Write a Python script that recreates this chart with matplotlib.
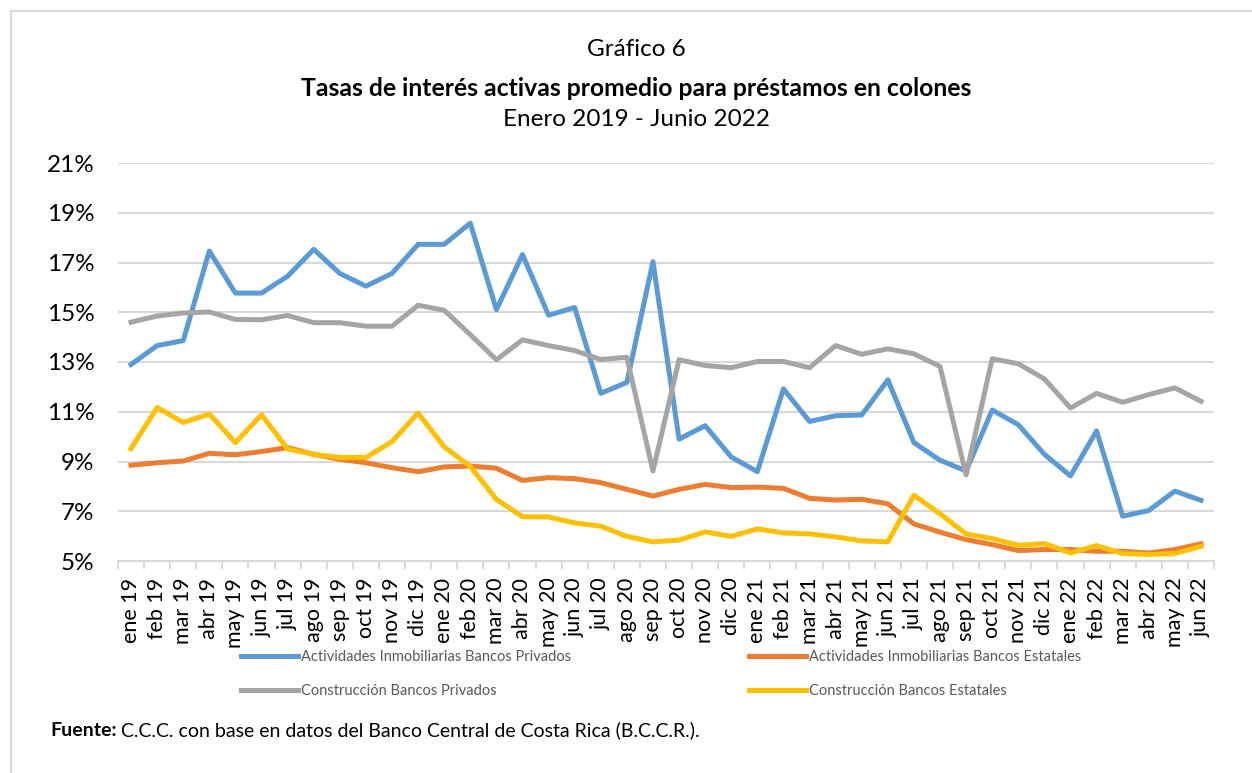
import matplotlib.pyplot as plt
from matplotlib.patches import Rectangle
from matplotlib.ticker import FixedLocator, FuncFormatter

plt.rcParams['font.family'] = ['Lato', 'DejaVu Sans']

# === DATA ===
months = ["ene", "feb", "mar", "abr", "may", "jun", "jul", "ago", "sep", "oct", "nov", "dic"]
labels = [f"{m} {y}" for y in ("19", "20", "21") for m in months] + \
         [f"{m} 22" for m in months[:6]]

act_privados = [12.90, 13.66, 13.86, 17.46, 15.77, 15.77, 16.45, 17.53, 16.56, 16.05, 16.56, 17.73,
                17.73, 18.58, 15.10, 17.32, 14.88, 15.19, 11.74, 12.18, 17.03, 9.90, 10.44, 9.18,
                8.59, 11.92, 10.61, 10.84, 10.87, 12.28, 9.76, 9.05, 8.62, 11.07, 10.48, 9.29,
                8.42, 10.23, 6.80, 7.03, 7.81, 7.44]
act_estatales = [8.85, 8.95, 9.02, 9.33, 9.27, 9.40, 9.56, 9.29, 9.09, 8.95, 8.75, 8.59,
                 8.78, 8.82, 8.73, 8.24, 8.35, 8.31, 8.15, 7.88, 7.61, 7.88, 8.08, 7.95,
                 7.97, 7.92, 7.52, 7.45, 7.48, 7.30, 6.49, 6.16, 5.86, 5.66, 5.42, 5.46,
                 5.46, 5.39, 5.39, 5.32, 5.46, 5.69]
cons_privados = [14.60, 14.85, 14.97, 15.01, 14.71, 14.70, 14.87, 14.58, 14.58, 14.44, 14.44, 15.28,
                 15.08, 14.10, 13.09, 13.89, 13.66, 13.46, 13.10, 13.19, 8.62, 13.09, 12.86, 12.77,
                 13.02, 13.02, 12.77, 13.66, 13.31, 13.53, 13.33, 12.82, 8.46, 13.13, 12.93, 12.32,
                 11.15, 11.74, 11.38, 11.69, 11.96, 11.42]
cons_estatales = [9.52, 11.17, 10.57, 10.91, 9.76, 10.88, 9.50, 9.29, 9.16, 9.16, 9.80, 10.95,
                  9.59, 8.80, 7.48, 6.78, 6.77, 6.53, 6.40, 5.99, 5.77, 5.84, 6.17, 5.99,
                  6.29, 6.13, 6.09, 5.97, 5.81, 5.77, 7.64, 6.90, 6.09, 5.90, 5.63, 5.70,
                  5.32, 5.62, 5.30, 5.26, 5.30, 5.59]

series = [
    ("Actividades Inmobiliarias Bancos Privados", act_privados, "#5B9BD5"),
    ("Construcción Bancos Privados", cons_privados, "#A5A5A5"),
    ("Actividades Inmobiliarias Bancos Estatales", act_estatales, "#ED7D31"),
    ("Construcción Bancos Estatales", cons_estatales, "#FFC000"),
]

# === FIGURE ===
fig = plt.figure(figsize=(12.52, 7.73), dpi=100)
ax = fig.add_axes([118 / 1252, 1 - 561 / 773, (1214 - 118) / 1252, (561 - 163) / 773])

x = list(range(len(labels)))
for name, vals, col in series:
    ax.plot(x, vals, color=col, lw=3.6, label=name, solid_joinstyle="round")

ax.set_xlim(-0.5, len(labels) - 0.5)
ax.set_ylim(5, 21)
ax.set_yticks(range(5, 22, 2))
ax.yaxis.set_major_formatter(FuncFormatter(lambda v, p: f"{v:.0f}%"))
ax.set_xticks(x)
ax.set_xticklabels(labels, rotation=90, fontsize=15.5)
ax.xaxis.set_minor_locator(FixedLocator([i - 0.5 for i in range(len(labels) + 1)]))
ax.tick_params(axis="x", which="major", length=0, pad=12)
ax.tick_params(axis="x", which="minor", length=6, color="#d9d9d9", width=1.3)
ax.tick_params(axis="y", length=0, pad=17, labelsize=17.5)

ax.grid(axis="y", color="#d9d9d9", lw=1.5)
ax.set_axisbelow(True)
for s in ("top", "right", "left"):
    ax.spines[s].set_visible(False)
ax.spines["bottom"].set_color("#d9d9d9")
ax.spines["bottom"].set_linewidth(1.5)

# titles
fig.text(0.508, 1 - 50 / 773, "Gráfico 6", ha="center", va="center", fontsize=17.5)
fig.text(0.508, 1 - 88 / 773, "Tasas de interés activas promedio para préstamos en colones",
         ha="center", va="center", fontsize=17.8, fontweight="bold")
fig.text(0.508, 1 - 120 / 773, "Enero 2019 - Junio 2022", ha="center", va="center", fontsize=17.5)

# legend
leg = fig.legend(loc="center left", bbox_to_anchor=(241 / 1252, 1 - 674 / 773), ncol=2,
                 frameon=False, fontsize=10.5, handlelength=3.9, handletextpad=0.2,
                 columnspacing=12.2, labelspacing=1.4, borderaxespad=0, borderpad=0)
for t in leg.get_texts():
    t.set_color("#595959")

# source
t1 = fig.text(50 / 1252, 1 - 730 / 773, "Fuente:", fontsize=14, fontweight="bold",
              ha="left", va="center")
ax.annotate(" C.C.C. con base en datos del Banco Central de Costa Rica (B.C.C.R.).",
            xy=(1, 0.5), xycoords=t1, ha="left", va="center", fontsize=14,
            annotation_clip=False)

# border
fig.patches.append(Rectangle((11 / 1252, -0.05), 1.1, 1 - 11 / 773 + 0.05,
                             transform=fig.transFigure, fill=False,
                             edgecolor="#d9d9d9", lw=1.5))

fig.savefig("out.png", dpi=100)
